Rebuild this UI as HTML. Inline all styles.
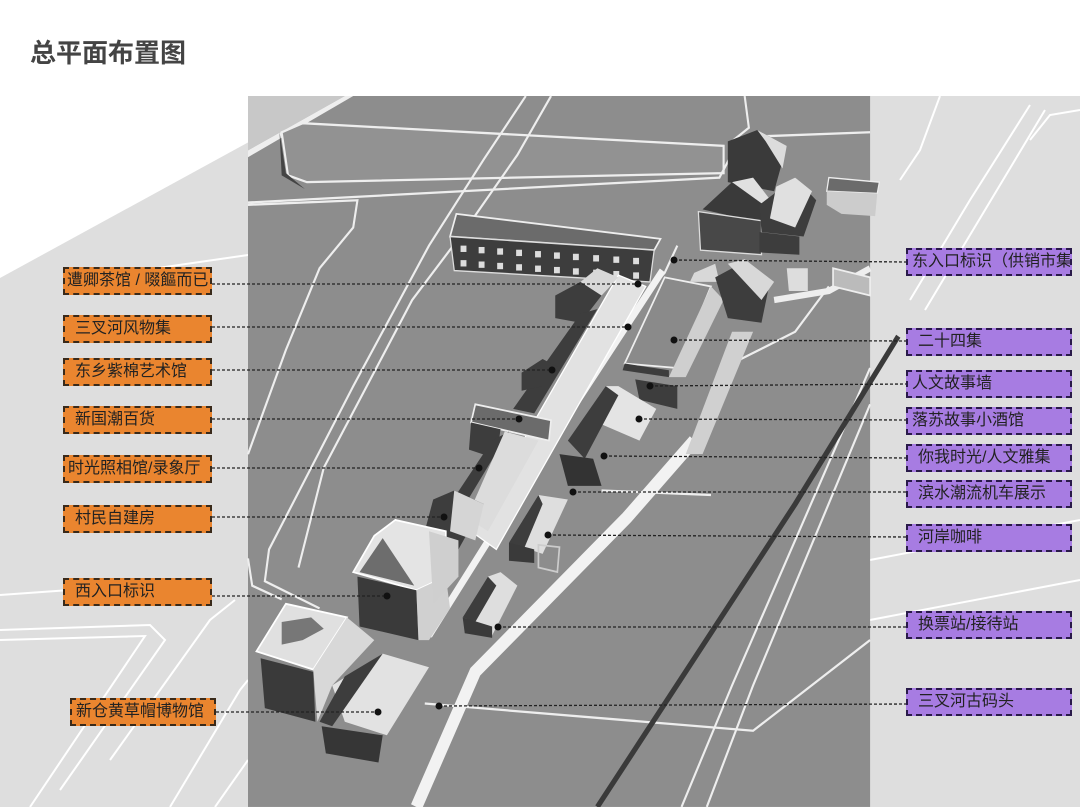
<!DOCTYPE html>
<html><head><meta charset="utf-8"><style>
html,body{margin:0;padding:0;background:#fff;}
body{width:1080px;height:807px;overflow:hidden;position:relative;font-family:"Liberation Sans","Noto Sans CJK SC",sans-serif;}
.t{position:absolute;left:30px;top:33px;font-size:26px;font-weight:bold;color:#444;letter-spacing:0px;}
.lb{position:absolute;box-sizing:border-box;border:2px dashed #3a2a1a;font-size:16px;color:#222;line-height:23px;padding-left:10px;white-space:nowrap;overflow:hidden;}
.o{background:#ea852f;left:63px;width:149px;height:28px;}
.p{background:#a77ce2;left:906px;width:166px;height:28px;border-color:#2a1a4a;}
</style></head><body>
<svg width="1080" height="807" style="position:absolute;left:0;top:0">
<polygon points="333,96 1080,96 1080,807 0,807 0,278" fill="#dedede"/>
<g fill="none" stroke="#fff" stroke-width="2">
<polyline points="110,760 160,690 210,620 235,600"/>
<polyline points="0,595 70,590"/>
<polyline points="0,630 150,625 165,640 60,790"/>
<polyline points="0,640 145,636 30,807"/>
<polyline points="170,807 240,690 248,680"/>
<polyline points="215,807 248,760"/>
<polyline points="110,275 248,255 333,245"/>
<polyline points="940,96 920,150 900,180"/>
<polyline points="1030,105 970,200 910,300"/>
<polyline points="1045,110 985,210 925,310"/>
<polyline points="1080,110 1050,115 1030,140"/>
<polyline points="870,560 1080,520"/>
<polyline points="870,620 1080,580"/>
</g>
<g transform="translate(248,96) scale(0.4209,0.4534)">
<rect x="0" y="0" width="1478" height="1568" fill="#8d8d8d"/>
<polygon points="0,0 230,0 0,120" fill="#c8c8c8"/>
<polygon points="0,120 230,0 250,0 0,135" fill="#eee"/>
<polygon points="80,80 130,60 1130,110 1130,170 140,190 95,175" fill="#929292" stroke="#eee" stroke-width="5"/>
<polygon points="75,80 90,170 135,205 80,175" fill="#444"/>
<g fill="none" stroke="#eee" stroke-width="5">
<polyline points="0,240 260,230 250,290 170,380 90,560 0,790"/>
<polyline points="0,1020 10,1080 80,1110"/>
<polyline points="660,0 560,140 430,330 250,640 50,1000 40,1070 170,1130"/>
<polyline points="720,0 640,130 520,290 390,450 180,820 120,1040"/>
<polyline points="0,235 1120,180 1160,110 1190,90 1478,80"/>
<polyline points="1180,0 1190,70 1150,100"/>
<polyline points="1020,330 990,390 960,420"/>
<polyline points="420,1340 1200,1400 1478,1200"/>
<polyline points="1478,600 1150,1300 1030,1568"/>
<polyline points="1478,680 1200,1300 1090,1568"/>
<polyline points="1380,420 1300,520 1150,590"/>
<polyline points="840,870 1100,880"/>
</g>
<polyline points="1060,760 900,930 540,1270 400,1568" fill="none" stroke="#f2f2f2" stroke-width="28"/>
<polyline points="985,385 700,790 430,1190" fill="none" stroke="#f2f2f2" stroke-width="16"/>
<polyline points="1545,530 1300,900 830,1568" fill="none" stroke="#3a3a3a" stroke-width="12"/>
<polyline points="1478,380 1380,430 1250,450" fill="none" stroke="#eee" stroke-width="14"/>
<polygon points="1390,380 1478,400 1478,440 1390,420" fill="#bbb" stroke="#eee" stroke-width="4"/>
<polygon points="495,260 980,315 965,340 480,310" fill="#6b6b6b" stroke="#eee" stroke-width="4"/>
<polygon points="480,310 965,340 955,410 490,385" fill="#3d3d3d" stroke="#ddd" stroke-width="3"/>
<g fill="#ddd">
<rect x="505" y="330" width="14" height="14"/><rect x="548" y="333" width="14" height="14"/><rect x="592" y="336" width="14" height="14"/><rect x="637" y="339" width="14" height="14"/><rect x="682" y="342" width="14" height="14"/><rect x="727" y="345" width="14" height="14"/><rect x="772" y="348" width="14" height="14"/><rect x="820" y="351" width="14" height="14"/><rect x="868" y="354" width="14" height="14"/><rect x="915" y="357" width="14" height="14"/>
<rect x="505" y="362" width="14" height="14"/><rect x="548" y="365" width="14" height="14"/><rect x="592" y="368" width="14" height="14"/><rect x="637" y="371" width="14" height="14"/><rect x="682" y="374" width="14" height="14"/><rect x="727" y="377" width="14" height="14"/><rect x="772" y="380" width="14" height="14"/><rect x="820" y="383" width="14" height="14"/><rect x="868" y="386" width="14" height="14"/><rect x="915" y="389" width="14" height="14"/>
</g>
<polygon points="880,395 945,420 590,1000 530,960" fill="#e2e2e2" stroke="#fff" stroke-width="3"/>
<polygon points="730,440 790,410 840,440 790,500 730,490" fill="#3d3d3d"/>
<polygon points="790,410 840,440 880,400 830,380" fill="#d8d8d8"/>
<polygon points="790,480 830,470 680,700 630,690" fill="#3d3d3d"/>
<polygon points="650,610 700,580 740,600 700,640 650,650" fill="#3d3d3d"/>
<polygon points="540,680 720,715 715,760 530,720" fill="#6b6b6b" stroke="#eee" stroke-width="4"/>
<polygon points="530,720 600,735 590,800 525,780" fill="#3d3d3d"/>
<polygon points="580,760 620,740 510,910 480,900" fill="#3d3d3d"/>
<polygon points="610,740 690,760 570,960 520,930" fill="#dcdcdc"/>
<polygon points="440,890 490,870 560,900 500,1000 420,960" fill="#3d3d3d"/>
<polygon points="490,870 560,900 540,980 480,960" fill="#d5d5d5"/>
<polygon points="250,1050 300,970 350,935 470,960 470,1060 400,1090" fill="#e4e4e4" stroke="#fff" stroke-width="4"/>
<polygon points="265,1050 320,975 395,1080" fill="#6d6d6d"/>
<polygon points="260,1060 400,1090 405,1200 265,1170" fill="#3a3a3a"/>
<polygon points="400,1090 470,1060 480,1130 430,1200 405,1200" fill="#d0d0d0"/>
<polygon points="430,960 500,980 500,1060 440,1120" fill="#cfcfcf"/>
<polygon points="20,1225 90,1120 235,1150 155,1265" fill="#e0e0e0" stroke="#fff" stroke-width="4"/>
<polygon points="80,1160 150,1150 180,1175 130,1200 80,1210" fill="#777"/>
<polygon points="30,1240 155,1270 160,1380 40,1350" fill="#3a3a3a"/>
<polygon points="155,1265 235,1150 300,1200 200,1300 165,1380" fill="#d8d8d8"/>
<polygon points="200,1300 320,1230 430,1260 330,1410 230,1380" fill="#e2e2e2"/>
<polygon points="230,1280 320,1230 200,1390 170,1380" fill="#3d3d3d"/>
<polygon points="175,1390 320,1410 310,1470 185,1450" fill="#363636"/>
<polygon points="990,400 1100,420 1020,600 895,590" fill="#8a8a8a" stroke="#eee" stroke-width="4"/>
<polygon points="895,590 1000,605 1000,620 890,605" fill="#3d3d3d"/>
<polygon points="1100,420 1130,450 1040,620 1000,620" fill="#cfcfcf"/>
<polygon points="1060,390 1110,370 1120,410 1050,410" fill="#d8d8d8"/>
<polygon points="1110,400 1170,370 1240,410 1220,500 1140,490" fill="#3d3d3d"/>
<polygon points="1140,370 1180,360 1250,410 1220,450" fill="#d8d8d8"/>
<polygon points="920,625 1020,640 1020,690 930,670" fill="#3d3d3d"/>
<polygon points="850,640 880,640 970,690 930,760 830,720" fill="#e4e4e4"/>
<polygon points="760,760 850,640 880,660 800,800" fill="#3d3d3d"/>
<polygon points="740,790 820,800 840,860 760,860" fill="#333"/>
<polygon points="620,985 690,880 760,890 700,1010" fill="#dedede"/>
<polygon points="620,985 690,880 700,900 655,1000" fill="#3d3d3d"/>
<polygon points="620,985 680,1000 680,1030 620,1025" fill="#3a3a3a"/>
<polygon points="690,990 740,995 735,1050 690,1040" fill="none" stroke="#ccc" stroke-width="4"/>
<polygon points="510,1150 570,1060 600,1050 640,1080 580,1190" fill="#dedede"/>
<polygon points="510,1150 570,1060 590,1080 540,1160" fill="#3d3d3d"/>
<polygon points="510,1150 580,1170 580,1195 515,1185" fill="#3a3a3a"/>
<polygon points="1150,520 1200,520 1080,790 1040,790" fill="#d0d0d0"/>
<polygon points="1140,100 1210,75 1280,110 1250,210 1140,190" fill="#3a3a3a"/>
<polygon points="1210,75 1280,110 1270,160 1230,100" fill="#dcdcdc"/>
<polygon points="1080,250 1150,190 1240,240 1220,280" fill="#3a3a3a"/>
<polygon points="1150,190 1200,180 1250,240 1240,250" fill="#e0e0e0"/>
<polygon points="1070,255 1220,275 1220,350 1075,340" fill="#484848" stroke="#ddd" stroke-width="3"/>
<polygon points="1215,240 1300,180 1350,230 1320,310 1220,300" fill="#3d3d3d"/>
<polygon points="1255,200 1300,180 1340,210 1300,290 1240,270" fill="#e0e0e0"/>
<polygon points="1215,300 1310,310 1310,350 1215,345" fill="#3d3d3d"/>
<polygon points="1380,180 1500,190 1495,215 1375,210" fill="#6b6b6b" stroke="#eee" stroke-width="3"/>
<polygon points="1375,210 1495,215 1490,265 1410,260 1375,240" fill="#ccc"/>
<polygon points="1280,380 1330,380 1330,430 1285,430" fill="#ddd"/>
</g>
<g stroke="#222" stroke-width="1.3" stroke-dasharray="3,2" fill="none">
<line x1="212" y1="284" x2="638" y2="284"/>
<line x1="212" y1="327" x2="628" y2="327"/>
<line x1="212" y1="370" x2="552" y2="370"/>
<line x1="212" y1="419" x2="519" y2="419"/>
<line x1="212" y1="468" x2="479" y2="468"/>
<line x1="212" y1="517" x2="444" y2="517"/>
<line x1="212" y1="596" x2="387" y2="596"/>
<line x1="216" y1="712" x2="378" y2="712"/>
<line x1="674" y1="260" x2="906" y2="262"/>
<line x1="674" y1="340" x2="906" y2="341"/>
<line x1="650" y1="386" x2="906" y2="384"/>
<line x1="639" y1="419" x2="906" y2="420"/>
<line x1="604" y1="456" x2="906" y2="458"/>
<line x1="573" y1="492" x2="906" y2="492"/>
<line x1="548" y1="535" x2="906" y2="537"/>
<line x1="498" y1="627" x2="906" y2="627"/>
<line x1="439" y1="706" x2="906" y2="704"/>
</g>
<g fill="#111">
<circle cx="638" cy="284" r="3.5"/><circle cx="628" cy="327" r="3.5"/><circle cx="552" cy="370" r="3.5"/><circle cx="519" cy="419" r="3.5"/><circle cx="479" cy="468" r="3.5"/><circle cx="444" cy="517" r="3.5"/><circle cx="387" cy="596" r="3.5"/><circle cx="378" cy="712" r="3.5"/>
<circle cx="674" cy="260" r="3.5"/><circle cx="674" cy="340" r="3.5"/><circle cx="650" cy="386" r="3.5"/><circle cx="639" cy="419" r="3.5"/><circle cx="604" cy="456" r="3.5"/><circle cx="573" cy="492" r="3.5"/><circle cx="548" cy="535" r="3.5"/><circle cx="498" cy="627" r="3.5"/><circle cx="439" cy="706" r="3.5"/>
</g>
</svg>
<div class="t">总平面布置图</div>
<div class="lb o" style="top:267px;padding-left:2px">遭卿茶馆 / 啜饇而已</div>
<div class="lb o" style="top:315px">三叉河风物集</div>
<div class="lb o" style="top:358px">东乡紫棉艺术馆</div>
<div class="lb o" style="top:406px">新国潮百货</div>
<div class="lb o" style="top:455px;padding-left:3px">时光照相馆/录象厅</div>
<div class="lb o" style="top:505px">村民自建房</div>
<div class="lb o" style="top:578px">西入口标识</div>
<div class="lb o" style="top:698px;left:70px;width:146px;padding-left:4px">新仓黄草帽博物馆</div>
<div class="lb p" style="top:248px;padding-left:4px">东入口标识（供销市集）</div>
<div class="lb p" style="top:328px">二十四集</div>
<div class="lb p" style="top:370px;padding-left:4px">人文故事墙</div>
<div class="lb p" style="top:407px;padding-left:4px">落苏故事小酒馆</div>
<div class="lb p" style="top:444px">你我时光/人文雅集</div>
<div class="lb p" style="top:480px">滨水潮流机车展示</div>
<div class="lb p" style="top:524px">河岸咖啡</div>
<div class="lb p" style="top:611px">换票站/接待站</div>
<div class="lb p" style="top:688px">三叉河古码头</div>
</body></html>
